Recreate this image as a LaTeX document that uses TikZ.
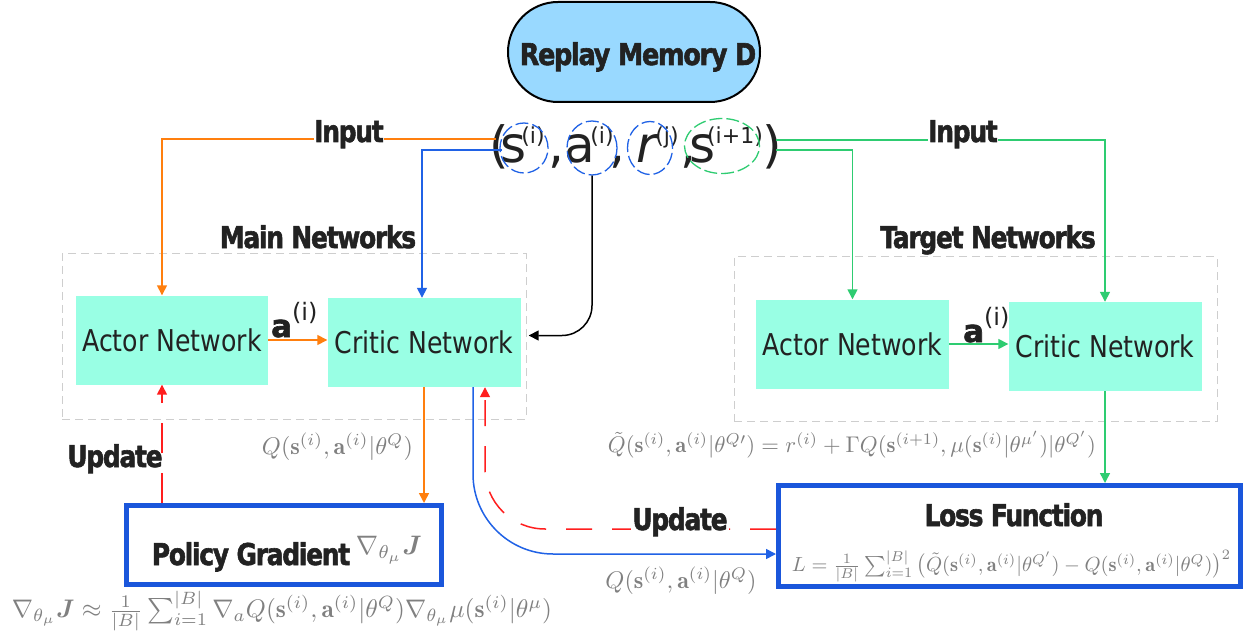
\documentclass[tikz,border=0pt]{standalone}
\usepackage{amsmath,amssymb}
\usepackage{fontspec}
\usetikzlibrary{arrows.meta,shapes.geometric}

\newfontfamily\netfont{DejaVu Sans}
\newfontfamily\lblfont[LetterSpace=-5,BoldFeatures={FakeBold=2}]{DejaVu Sans}

\definecolor{aqua}{RGB}{153,255,228}
\definecolor{pillblue}{RGB}{153,217,255}
\definecolor{boxblue}{RGB}{26,86,219}
\definecolor{lineblue}{RGB}{32,98,230}
\definecolor{lineorange}{RGB}{255,127,14}
\definecolor{linegreen}{RGB}{46,204,113}
\definecolor{linered}{RGB}{255,30,30}
\definecolor{dashgray}{RGB}{206,206,206}
\definecolor{ink}{RGB}{34,34,34}
\definecolor{mathgray}{RGB}{128,128,128}

% bold, tightly set labels
\newcommand{\boldlbl}[2][0.83]{\scalebox{#1}[1]{\lblfont\fontsize{30}{32}\selectfont\bfseries #2}}
% text inside the network boxes
\newcommand{\nettext}[1]{\scalebox{0.84}[1]{\netfont\fontsize{30}{32}\selectfont #1}}
% transition tuple
\newcommand{\tup}[1]{{\netfont\fontsize{50}{50}\selectfont #1}}
\newcommand{\tupsup}[1]{{\netfont\fontsize{22}{22}\selectfont #1}}
% grey formulas, set to a given width
\newcommand{\gmath}[2]{\resizebox{#1pt}{!}{\color{mathgray}$#2$}}

\begin{document}
\begin{tikzpicture}[x=1pt,y=-1pt,
  tip/.style={-{Triangle[length=10pt,width=10pt]}},
  conn/.style={line width=1.5pt},
  netbox/.style={fill=aqua,draw=none,minimum width=192pt,minimum height=89pt,inner sep=0pt,text=ink},
  groupbox/.style={draw=dashgray,line width=1pt,dash pattern=on 8pt off 5pt,minimum width=#1},
  resbox/.style={draw=boxblue,fill=white,line width=5pt,inner sep=0pt},
  pill/.style={draw=black,fill=pillblue,line width=2pt,rounded corners=50pt,minimum width=252pt,minimum height=100pt},
  lbl/.style={inner sep=0pt,text=ink,anchor=base},
  tupc/.style={inner sep=0pt,anchor=base,text=ink},
  pick/.style={draw=#1,ellipse,dash pattern=on 13pt off 4pt,line width=1.3pt,inner sep=0pt},
  fml/.style={inner sep=0pt}]

\fill[white] (0,0) rectangle (1252,636);
\useasboundingbox (0,0) rectangle (1252,636);

% replay memory
\node[pill] (rm) at (634,52) {};
\node[lbl] (rmlabel) at (638,65) {\boldlbl[0.85]{Replay Memory D}};

% sampled transition
\node[tupc] (lp) at (499,163) {\tup{(}};
\node[tupc] (t1) at (514,163) {\tup{s}};
\node[tupc] (t1s) at (533,144) {\tupsup{(i)}};
\node[tupc] (k1) at (556,163) {\tup{,}};
\node[tupc] (t2) at (580,163) {\tup{a}};
\node[tupc] (t2s) at (602,144) {\tupsup{(i)}};
\node[tupc] (k2) at (617,163) {\tup{,}};
\node[tupc] (t3) at (647,163) {\tup{\itshape r}};
\node[tupc] (t3s) at (667,144) {\tupsup{(j)}};
\node[tupc] (k3) at (688,163) {\tup{,}};
\node[tupc] (t4) at (703,163) {\tup{s}};
\node[tupc] (t4s) at (735,144) {\tupsup{(i+1)}};
\node[tupc] (rp) at (772,163) {\tup{)}};

\node[pick=lineblue,minimum width=48pt,minimum height=50pt] (c1) at (524,148) {};
\node[pick=lineblue,minimum width=50pt,minimum height=54pt] (c2) at (592,148) {};
\node[pick=lineblue,minimum width=45pt,minimum height=53pt] (c3) at (650,148) {};
\node[pick=linegreen,minimum width=75pt,minimum height=55pt] (c4) at (722,146) {};

\coordinate (outL1) at (496,139);
\coordinate (outL2) at (502,150);
\coordinate (outR1) at (776,140);
\coordinate (outR2) at (776,150);

% groups
\node[groupbox=464pt,minimum height=165pt] (mainbox) at (294,336.5) {};
\node[groupbox=483pt,minimum height=164pt] (targetbox) at (975.5,339) {};
\node[lbl] (mainlbl) at (318,248) {\boldlbl{Main Networks}};
\node[lbl] (targetlbl) at (988,248) {\boldlbl{Target Networks}};

% networks
\node[netbox] (ma) at (172,340) {\nettext{Actor Network}};
\node[netbox,minimum width=193pt] (mc) at (424,342.5) {\nettext{Critic Network}};
\node[netbox,minimum width=193pt] (ta) at (852.5,344) {\nettext{Actor Network}};
\node[netbox,minimum width=193pt] (tc) at (1105,346.5) {\nettext{Critic Network}};

% result boxes
\node[resbox,minimum width=315pt,minimum height=79pt] (pg) at (284,545) {};
\node[resbox,minimum width=462pt,minimum height=101pt] (loss) at (1009.5,536) {};
\node[lbl] (pglbl) at (251,565) {\boldlbl{Policy Gradient}};
\node[fml] (pgf) at (389,550) {\gmath{66}{\nabla_{\theta_\mu}\boldsymbol{J}}};
\node[lbl] (losslbl) at (1014,526) {\boldlbl{Loss Function}};
\node[fml] (lossf) at (1011.5,566) {\gmath{439}{L=\frac{1}{|B|}\sum_{i=1}^{|B|}\big(\tilde{Q}(\mathbf{s}^{(i)},\mathbf{a}^{(i)}|\theta^{Q'})-Q(\mathbf{s}^{(i)},\mathbf{a}^{(i)}|\theta^{Q})\big)^2}};

% connectors from the tuple
\draw[conn,lineorange,tip] (outL1) -| ([xshift=-10pt]ma.north);
\draw[conn,lineblue,tip] (outL2) -| ([xshift=-2pt]mc.north);
\draw[conn,linegreen,tip] (outR1) -| (tc.north);
\draw[conn,linegreen,tip] (outR2) -| (ta.north);
\draw[conn,black,tip,rounded corners=30pt,shorten >=8pt] (c2.south) |- ([yshift=7pt]mc.east);

\node[lbl,fill=white,inner sep=0pt] (in1) at (349,142) {\boldlbl{Input}};
\node[lbl,fill=white,inner sep=0pt] (in2) at (963,142) {\boldlbl{Input}};

% actions
\draw[conn,lineorange,tip] (ma.east) -- (ma.east -| mc.west);
\draw[conn,linegreen,tip] (ta.east) -- (ta.east -| tc.west);
\node[lbl,anchor=base west] (am) at (271,337) {{\lblfont\fontsize{31}{31}\selectfont\bfseries a}\raisebox{17pt}{\netfont\fontsize{24}{24}\selectfont (i)}};
\node[lbl,anchor=base west] (at) at (963,342) {{\lblfont\fontsize{31}{31}\selectfont\bfseries a}\raisebox{17pt}{\netfont\fontsize{24}{24}\selectfont (i)}};

% values flowing down
\draw[conn,lineorange,tip] (mc.south) -- (mc.south |- pg.north);
\draw[conn,linegreen,tip] (tc.south) -- (tc.south |- loss.north);
\draw[conn,lineblue,tip,rounded corners=80pt] ([xshift=49pt]mc.south) |- ([yshift=-18pt]loss.west);

% updates
\draw[conn,linered,tip,dash pattern=on 26pt off 20pt,rounded corners=60pt] ([yshift=7pt]loss.west) -| ([xshift=61pt]mc.south);
\draw[conn,linered,tip,dash pattern=on 30pt off 20pt] ([xshift=-10pt]ma.south |- pg.north) -- ([xshift=-10pt]ma.south);
\node[lbl] (up1) at (115,467) {\boldlbl{Update}};
\node[lbl,fill=white,inner sep=1pt] (up2) at (680,530) {\boldlbl{Update}};

% formulas
\node[fml] (qmain) at (337.5,447) {\gmath{151}{Q(\mathbf{s}^{(i)},\mathbf{a}^{(i)}|\theta^{Q})}};
\node[fml] (qtarget) at (852,445) {\gmath{488}{\tilde{Q}(\mathbf{s}^{(i)},\mathbf{a}^{(i)}|\theta^{Q\prime})=r^{(i)}+\Gamma Q(\mathbf{s}^{(i+1)},\mu(\mathbf{s}^{(i)}|\theta^{\mu'})|\theta^{Q'})}};
\node[fml] (qlow) at (681,581) {\gmath{151}{Q(\mathbf{s}^{(i)},\mathbf{a}^{(i)}|\theta^{Q})}};
\node[fml] (grad) at (282,611) {\gmath{540}{\nabla_{\theta_\mu}\boldsymbol{J}\approx\frac{1}{|B|}\sum_{i=1}^{|B|}\nabla_a Q(\mathbf{s}^{(i)},\mathbf{a}^{(i)}|\theta^{Q})\nabla_{\theta_\mu}\mu(\mathbf{s}^{(i)}|\theta^{\mu})}};

\end{tikzpicture}
\end{document}
